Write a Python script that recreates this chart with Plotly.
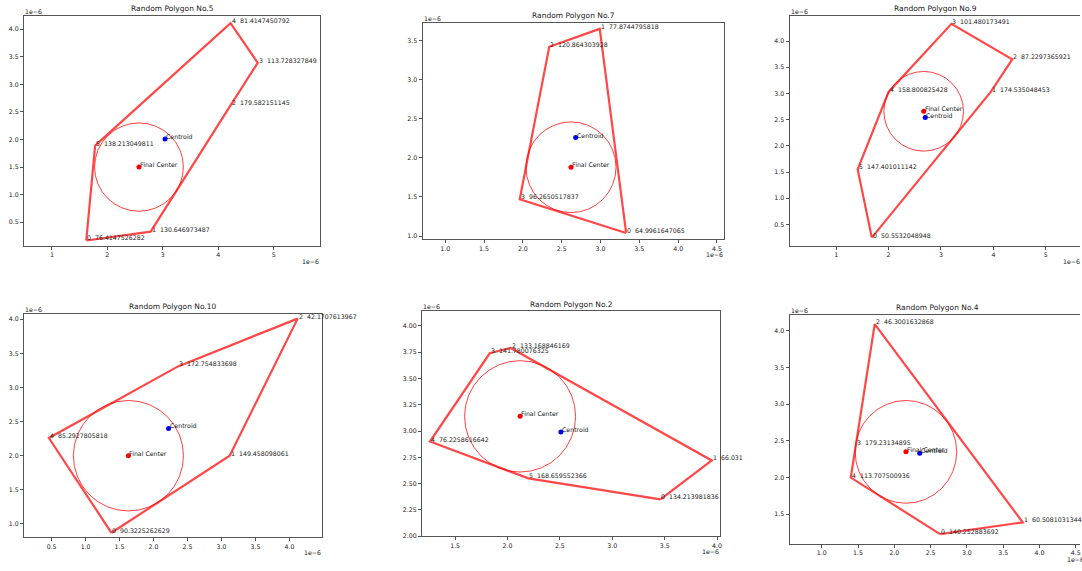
import plotly.graph_objects as go

W, H = 1082, 571
FONT = "DejaVu Sans"

# ---------------- data (values in units of 1e-6) ----------------
TITLES = ["Random Polygon No.5", "Random Polygon No.7", "Random Polygon No.9",
          "Random Polygon No.10", "Random Polygon No.2", "Random Polygon No.4"]

X5 = [1.62, 2.78, 4.22, 4.71, 4.22, 1.78]
Y5 = [0.17, 0.33, 2.62, 3.39, 4.11, 1.89]
ANG5 = ["76.4147526282", "130.646973487", "179.582151145", "113.728327849",
        "81.4147450792", "138.213049811"]
CENTROID5 = (3.04, 2.01)
CENTER5 = (2.57, 1.50)
R5 = 0.80

X7 = [3.33, 2.99, 2.34, 1.96]
Y7 = [1.04, 3.65, 3.42, 1.47]
ANG7 = ["64.9961647065", "77.8744795818", "120.864303928", "96.2650517837"]
CENTROID7 = (2.68, 2.26)
CENTER7 = (2.62, 1.88)
R7 = 0.58

X9 = [1.68, 3.95, 4.36, 3.20, 2.00, 1.41]
Y9 = [0.25, 3.03, 3.65, 4.33, 3.03, 1.55]
ANG9 = ["50.5532048948", "174.535048453", "87.2297365921", "101.480173491",
        "158.800825428", "147.401011142"]
CENTROID9 = (2.70, 2.54)
CENTER9 = (2.67, 2.66)
R9 = 0.76

X10 = [1.38, 3.12, 4.12, 2.36, 0.46]
Y10 = [0.87, 2.00, 4.01, 3.31, 2.26]
ANG10 = ["90.3225262629", "149.458098061", "42.1707613967", "172.754833698",
         "85.2927805818"]
CENTROID10 = (2.22, 2.40)
CENTER10 = (1.63, 2.00)
R10 = 0.81

X2 = [3.46, 3.95, 2.03, 1.83, 1.26, 2.20]
Y2 = [2.35, 2.72, 3.79, 3.74, 2.90, 2.55]
ANG2 = ["134.213981836", "66.031", "133.168846169", "141.780076325",
        "76.2258616642", "168.659552366"]
CENTROID2 = (2.51, 2.99)
CENTER2 = (2.12, 3.14)
R2 = 0.53

X4 = [2.63, 3.77, 1.73, 1.47, 1.40]
Y4 = [1.23, 1.39, 4.09, 2.44, 2.00]
ANG4 = ["140.252883692", "60.5081031344", "46.3001632868", "179.23134895",
        "113.707500936"]
CENTROID4 = (2.35, 2.33)
CENTER4 = (2.16, 2.35)
R4 = 0.70

OFFSET_LABEL = "1e\u22126"

# ---------------- layout (pixel boxes of each axes) ----------------
PANELS = [
    dict(t=TITLES[0], x=X5, y=Y5, a=ANG5, c=CENTROID5, f=CENTER5, r=R5,
         box=(24, 321, 16, 247), xr=[0.497, 5.84], yr=[0.075, 4.24],
         xd=1, xf="d", yd=0.5, yf=".1f", right=True, xoff=321),
    dict(t=TITLES[1], x=X7, y=Y7, a=ANG7, c=CENTROID7, f=CENTER7, r=R7,
         box=(423.3, 725, 22.7, 240.7), xr=[0.708, 4.586], yr=[0.957, 3.73],
         xd=0.5, xf=".1f", yd=0.5, yf=".1f", right=True, xoff=725),
    dict(t=TITLES[2], x=X9, y=Y9, a=ANG9, c=CENTROID9, f=CENTER9, r=R9,
         box=(791, 1082, 16, 247), xr=[0.11, 5.653], yr=[0.095, 4.48],
         xd=1, xf="d", yd=0.5, yf=".1f", right=False, xoff=1083),
    dict(t=TITLES[3], x=X10, y=Y10, a=ANG10, c=CENTROID10, f=CENTER10, r=R10,
         box=(24, 322.7, 315.3, 540), xr=[0.093, 4.48], yr=[0.806, 4.083],
         xd=0.5, xf=".1f", yd=0.5, yf=".1f", right=True, xoff=322.7),
    dict(t=TITLES[4], x=X2, y=Y2, a=ANG2, c=CENTROID2, f=CENTER2, r=R2,
         box=(422.7, 721.7, 312.7, 539.3), xr=[1.183, 4.032], yr=[1.997, 4.142],
         xd=0.5, xf=".1f", yd=0.25, yf=".2f", right=True, xoff=721.7),
    dict(t=TITLES[5], x=X4, y=Y4, a=ANG4, c=CENTROID4, f=CENTER4, r=R4,
         box=(791, 1082, 316.5, 546.7), xr=[0.556, 4.559], yr=[1.097, 4.217],
         xd=0.5, xf=".1f", yd=0.5, yf=".1f", right=False, xoff=1087),
]

POLY_COLOR = "rgba(255,0,0,0.72)"
CIRCLE_COLOR = "rgba(255,0,0,0.75)"
TEXT_COLOR = "#222222"
SPINE = "#555555"

fig = go.Figure()
annotations = []
shapes = []
layout = {}

for i, p in enumerate(PANELS, start=1):
    sx = "" if i == 1 else str(i)
    xa, ya = "x" + sx, "y" + sx
    L, R_, T, B = p["box"]
    xdom = [L / W, min(R_ / W, 1.0)]
    ydom = [1 - B / H, 1 - T / H]

    layout["xaxis" + sx] = dict(
        domain=xdom, range=p["xr"], anchor=ya, showgrid=False, zeroline=False,
        showline=True, linecolor=SPINE, linewidth=1, mirror=True,
        ticks="outside", ticklen=3, tickcolor=SPINE, tickwidth=1,
        dtick=p["xd"], tick0=0, tickformat=p["xf"],
        tickfont=dict(family=FONT, size=6.25, color=TEXT_COLOR),
    )
    layout["yaxis" + sx] = dict(
        domain=ydom, range=p["yr"], anchor=xa, showgrid=False, zeroline=False,
        showline=True, linecolor=SPINE, linewidth=1, mirror=p["right"],
        ticks="outside", ticklen=3, tickcolor=SPINE, tickwidth=1,
        dtick=p["yd"], tick0=0, tickformat=p["yf"],
        tickfont=dict(family=FONT, size=6.25, color=TEXT_COLOR),
    )

    # polygon (closed)
    px = list(p["x"]) + [p["x"][0]]
    py = list(p["y"]) + [p["y"][0]]
    fig.add_trace(go.Scatter(x=px, y=py, mode="lines", xaxis=xa, yaxis=ya,
                             line=dict(color=POLY_COLOR, width=2.2),
                             showlegend=False, hoverinfo="skip"))
    # inscribed circle
    cx, cy = p["f"]
    shapes.append(dict(type="circle", xref=xa, yref=ya,
                       x0=cx - p["r"], x1=cx + p["r"],
                       y0=cy - p["r"], y1=cy + p["r"],
                       line=dict(color=CIRCLE_COLOR, width=1)))
    # points
    fig.add_trace(go.Scatter(x=[p["c"][0]], y=[p["c"][1]], mode="markers",
                             xaxis=xa, yaxis=ya,
                             marker=dict(color="blue", size=5),
                             showlegend=False, hoverinfo="skip"))
    fig.add_trace(go.Scatter(x=[p["f"][0]], y=[p["f"][1]], mode="markers",
                             xaxis=xa, yaxis=ya,
                             marker=dict(color="red", size=5),
                             showlegend=False, hoverinfo="skip"))

    # vertex labels
    for k, (vx, vy, ang) in enumerate(zip(p["x"], p["y"], p["a"])):
        annotations.append(dict(x=vx, y=vy, xref=xa, yref=ya,
                                text=f"{k}\u00a0\u00a0{ang}", showarrow=False,
                                xanchor="left", yanchor="bottom", yshift=-2,
                                borderpad=0,
                                font=dict(family=FONT, size=6.25, color=TEXT_COLOR)))
    annotations.append(dict(x=p["c"][0], y=p["c"][1], xref=xa, yref=ya,
                            text="Centroid", showarrow=False,
                            xanchor="left", yanchor="bottom", yshift=-2, borderpad=0,
                            font=dict(family=FONT, size=6.25, color=TEXT_COLOR)))
    annotations.append(dict(x=p["f"][0], y=p["f"][1], xref=xa, yref=ya,
                            text="Final Center", showarrow=False,
                            xanchor="left", yanchor="bottom", yshift=-2, borderpad=0,
                            font=dict(family=FONT, size=6.25, color=TEXT_COLOR)))

    # title
    full_right = p["xoff"] if not p["right"] else R_
    annotations.append(dict(x=(L + full_right) / 2 / W, y=1 - (T - 7) / H,
                            xref="paper", yref="paper", text=p["t"],
                            showarrow=False, xanchor="center", yanchor="middle",
                            font=dict(family=FONT, size=7.5, color=TEXT_COLOR)))
    # offset labels
    annotations.append(dict(x=L / W, y=ydom[1], xref="paper", yref="paper",
                            text=OFFSET_LABEL, showarrow=False,
                            xanchor="left", yanchor="bottom", yshift=0, borderpad=0,
                            font=dict(family=FONT, size=6.25, color=TEXT_COLOR)))
    annotations.append(dict(x=p["xoff"] / W, y=ydom[0], xref="paper", yref="paper",
                            text=OFFSET_LABEL, showarrow=False,
                            xanchor="right", yanchor="top", yshift=-11, borderpad=0,
                            font=dict(family=FONT, size=6.25, color=TEXT_COLOR)))

fig.update_layout(
    width=W, height=H, margin=dict(l=0, r=0, t=0, b=0),
    paper_bgcolor="white", plot_bgcolor="white",
    annotations=annotations, shapes=shapes, **layout,
)

fig.write_html("out.html")
